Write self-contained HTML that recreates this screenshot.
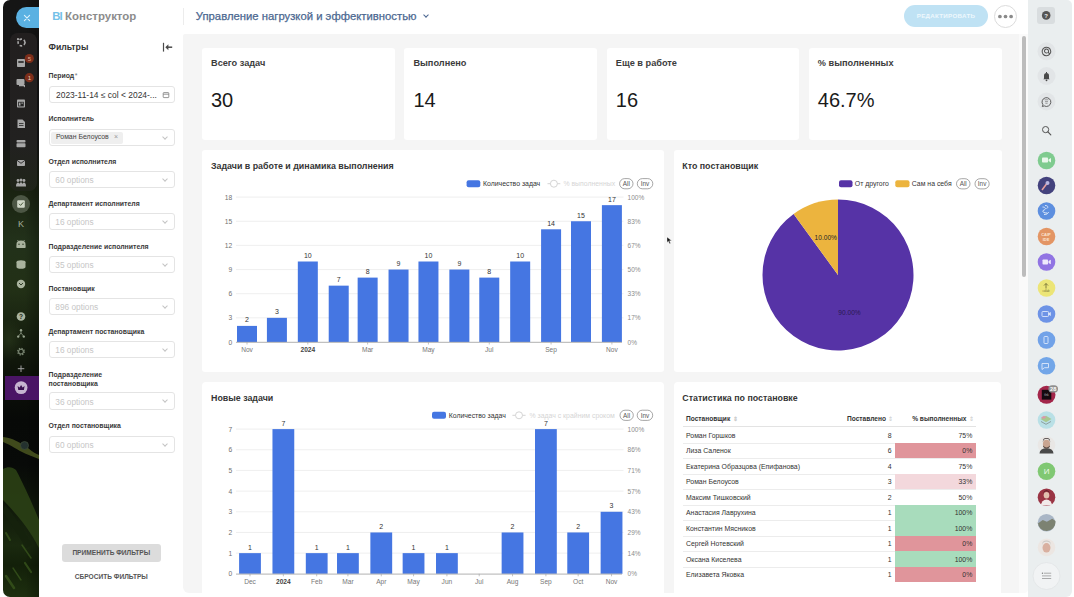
<!DOCTYPE html>
<html lang="ru">
<head>
<meta charset="utf-8">
<title>BI Конструктор</title>
<style>
*{box-sizing:border-box;margin:0;padding:0}
html,body{width:1074px;height:597px;overflow:hidden;background:#fff;font-family:"Liberation Sans","Noto Sans CJK SC",sans-serif;color:#333}
.abs{position:absolute}
svg text{font-family:"Liberation Sans","Noto Sans CJK SC",sans-serif}
#lside{left:3px;top:0;width:36px;height:597px;border-radius:7px 0 0 7px;overflow:hidden;
 background:
  radial-gradient(ellipse 22px 30px at 6px 340px, rgba(60,80,40,.35), rgba(0,0,0,0) 70%),
  linear-gradient(90deg, rgba(0,0,0,0) 60%, rgba(0,0,0,.25) 100%),
  linear-gradient(180deg,#151515 0px,#161616 140px,#1a2311 190px,#22311a 240px,#223016 290px,#151e0e 340px,#0d1209 375px,#070907 420px,#080a08 465px,#0c1209 490px,#121c0b 515px,#1a290f 545px,#132009 565px,#1d2f0f 597px);}
#lgroup{left:9.5px;top:32.7px;width:27px;height:158px;border-radius:8px 8px 8px 8px;background:linear-gradient(180deg,#221f1f 0%,#222120 70%,#1f2419 100%)}
#closepill{left:15.8px;top:7.4px;width:23.2px;height:20.8px;border-radius:10.4px 0 0 10.4px;background:#5ab1e2}
.sic{position:absolute;left:14px;width:14px;height:14px}
#purp{left:4.5px;top:376px;width:34px;height:24px;background:#4a1565}
#filter{left:39px;top:0;width:144px;height:597px;background:#fff}
#hdr{left:39px;top:0;width:989px;height:34px;background:#fff}
#main{left:183px;top:33.7px;width:845px;height:559.3px;background:#f5f5f5;border-radius:2px 0 6px 6px}
#track{left:1019px;top:34px;width:9px;height:559px;background:#fafafa;border-radius:0 0 4px 0}
#thumb{left:1022px;top:36px;width:4.3px;height:241px;border-radius:2px;background:#bcbcbc}
#rside{left:1027.5px;top:0;width:44.7px;height:597px;background:#eaeeef;border-radius:0 5px 6px 0}
.card{position:absolute;background:#fff;border-radius:3px}
.kl{position:absolute;font-size:9.2px;font-weight:bold;color:#3c3c3c}
.kv{position:absolute;font-size:20px;color:#1a1a1a;line-height:1}
.ct{position:absolute;font-size:8.85px;font-weight:bold;color:#353535}
.flab{left:48.5px;font-size:6.9px;font-weight:bold;color:#3a3a3a;line-height:9.3px}
.finp{left:48.5px;width:126px;height:17.2px;border:0.8px solid #e4e4e4;border-radius:3px;background:#fff}
.ph{position:absolute;left:5.8px;top:3.2px;font-size:8.3px;color:#c6c6c6}
.chev{position:absolute;left:113px;top:5px;width:4px;height:4px;border-right:0.7px solid #c4c4c4;border-bottom:0.7px solid #c4c4c4;transform:rotate(45deg)}
.trow{font-size:6.9px;color:#333}
.sort{font-size:6px;color:#c8c8c8}
.ric{position:absolute;left:1037.5px;width:17px;height:17px;border-radius:50%}
</style>
</head>
<body>
<!-- left dark sidebar -->
<div id="lside" class="abs"></div>
<div id="lgroup" class="abs"></div>
<div id="closepill" class="abs"></div>
<svg class="abs" style="left:22px;top:12.5px" width="10" height="10" viewBox="0 0 10 10"><path d="M2.4 2.4L7.6 7.6M7.6 2.4L2.4 7.6" stroke="#dff2fc" stroke-width="1.1" stroke-linecap="round"/></svg>
<div id="purp" class="abs"></div>
<svg class="abs" style="left:0;top:0" width="39" height="597" viewBox="0 0 39 597">
 <g fill="#a8a8a8" stroke="none">
  <!-- 42: dots circle -->
  <circle cx="21.5" cy="42.5" r="3.4" fill="none" stroke="#a8a8a8" stroke-width="1.6" stroke-dasharray="2.6 1.9"/><circle cx="18" cy="39.2" r="1.1"/><path d="M24.5 41.5l1.6 1.2-1.6 1.2z"/>
  <!-- 62: box -->
  <rect x="17" y="59" width="8" height="8" rx="0.8"/><rect x="18.3" y="61.2" width="5.4" height="1.6" fill="#252525"/>
  <!-- 83: chat -->
  <rect x="16.5" y="79" width="8" height="6" rx="1"/><path d="M19 85h6v2.5l-1.5-1.2H19z"/>
  <!-- 103: calendar -->
  <rect x="17" y="99.5" width="8" height="8" rx="0.8"/><rect x="18.2" y="101.8" width="5.6" height="4.6" fill="#252525"/><rect x="19" y="102.6" width="1.5" height="3" /><rect x="21.3" y="102.6" width="1.8" height="1"/>
  <!-- 123: doc -->
  <path d="M17.5 119.5h5l2.5 2.5v6h-7.5z"/><rect x="19" y="123" width="4.5" height="0.8" fill="#252525"/><rect x="19" y="125" width="4.5" height="0.8" fill="#252525"/>
  <!-- 143: tray -->
  <rect x="16.5" y="140" width="9" height="2.5" rx="1"/><rect x="16.5" y="143.3" width="9" height="4" rx="0.8"/>
  <!-- 163: mail -->
  <rect x="17" y="160" width="8" height="6" rx="0.8"/><path d="M17 160.3l4 3 4-3" stroke="#252525" stroke-width="0.9" fill="none"/>
  <!-- 183: people -->
  <circle cx="18" cy="180.5" r="1.4"/><circle cx="21" cy="180" r="1.5"/><circle cx="24" cy="180.5" r="1.4"/><path d="M16 186.5c0-3 1-4 2-4s2 1 2 4zM19.3 186.5c0-3.2 0.8-4.2 1.7-4.2s1.7 1 1.7 4.2zM22 186.5c0-3 1-4 2-4s2 1 2 4z"/>
 </g>
 <!-- 204 selected -->
 <circle cx="21" cy="204" r="9" fill="#4c5644"/>
 <rect x="17.2" y="200.3" width="7.6" height="7.4" rx="1" fill="#cfd6c7"/>
 <path d="M19 203.8l1.6 1.6 2.6-3" stroke="#4a5a3c" stroke-width="1" fill="none"/>
 <text x="21" y="227.3" text-anchor="middle" font-size="9" font-family="Liberation Sans, sans-serif" fill="#a3ad99">K</text>
 <g fill="#a9b39e">
  <!-- 244 robot -->
  <path d="M16.5 246.5v-2.5a4.5 3.5 0 0 1 9 0v2.5z"/><rect x="16.5" y="245.5" width="9" height="2.5" rx="0.6"/><circle cx="19" cy="244.3" r="0.7" fill="#22301a"/><circle cx="23" cy="244.3" r="0.7" fill="#22301a"/>
  <path d="M17.5 240l1 1.5M24.5 240l-1 1.5" stroke="#a9b39e" stroke-width="0.8"/>
  <!-- 264 cylinder -->
  <path d="M16.5 262v5a4.5 1.8 0 0 0 9 0v-5z"/><ellipse cx="21" cy="262" rx="4.5" ry="1.8"/>
  <!-- 284 down chevron circle -->
  <circle cx="21" cy="284" r="4.2"/><path d="M19 283l2 2 2-2" stroke="#22301a" stroke-width="0.9" fill="none"/>
  <!-- 316 ? -->
  <circle cx="21" cy="316.5" r="4.3"/>
 </g>
 <text x="21" y="318.8" text-anchor="middle" font-size="6.5" font-weight="bold" font-family="Liberation Sans, sans-serif" fill="#1c2614">?</text>
 <g stroke="#8c9884" stroke-width="0.8" fill="none"><path d="M21 330.5v2.5M21 333l-2.6 3.2M21 333l2.6 3.2"/></g><g fill="#98a48f"><circle cx="21" cy="330.3" r="1.2"/><circle cx="18.2" cy="336.6" r="1.2"/><circle cx="23.8" cy="336.6" r="1.2"/></g>
 <circle cx="21" cy="351.6" r="3.3" fill="none" stroke="#7c8874" stroke-width="1.3" stroke-dasharray="1.3 1.3"/><circle cx="21" cy="351.6" r="2.4" fill="none" stroke="#7c8874" stroke-width="1.1"/>
 <path d="M21 365.5v6.5M17.8 368.7h6.5" stroke="#a0a0a0" stroke-width="1"/>
 <circle cx="21.1" cy="387.6" r="6.4" fill="#c6b4d0"/>
 <path d="M18.3 390l-0.7-4 2 1.6 1.5-2.6 1.5 2.6 2-1.6-0.7 4z" fill="#3a1050"/>
 <!-- badges -->
 <circle cx="29.3" cy="58.5" r="4.6" fill="#7c2e1a"/><text x="29.3" y="60.8" text-anchor="middle" font-size="6" fill="#e0a890" font-family="Liberation Sans, sans-serif">5</text>
 <circle cx="29.3" cy="77.7" r="4.6" fill="#7c2e1a"/>
 <text x="29.3" y="80" text-anchor="middle" font-size="6" fill="#f2c9b8" font-family="Liberation Sans, sans-serif">1</text>
 <!-- leaves -->
 <path d="M3 437 C12 438 20 442 28 448 C33 452 36 454 39 455 L39 459 C34 457 28 455 20 451 C12 446 6 443 3 442z" fill="#4a5620" opacity="0.85"/>
 <circle cx="24.5" cy="445.5" r="4" fill="#24312f" stroke="#3f4d3a" stroke-width="0.7"/>
 <path d="M3 469 C8 466 13 467 16 470 C24 485 33 505 39 520 L39 548 C30 530 15 512 3 500z" fill="#2b4015" opacity="0.9"/>
 <path d="M5 505 C14 515 24 530 32 545 L26 548 C18 535 10 522 3 512z" fill="#15220c" opacity="0.8"/>
 <g stroke="#3c5a1e" stroke-linecap="round" fill="none" opacity="0.7">
  <path d="M6 533 L10 540" stroke-width="2"/>
  <path d="M22 545 L31 558" stroke-width="1.5"/>
  <path d="M25 563 L31 572" stroke-width="2.2"/>
  <path d="M6 576 L14 588" stroke-width="2.6"/>
  <path d="M13 568 L21 580" stroke-width="1.4"/>
 </g>
</svg>

<!-- filter panel + header -->
<div id="filter" class="abs"></div>
<div id="hdr" class="abs"></div>
<div class="abs" style="left:52.3px;top:10.2px;font-size:11.3px;font-weight:bold;letter-spacing:-0.9px;line-height:13px;color:#73c1e8">BI</div><div class="abs" style="left:65.1px;top:10.1px;font-size:11.45px;font-weight:bold;line-height:13px;color:#8c8c8c">Конструктор</div>
<div class="abs" style="left:183px;top:8px;width:1px;height:17px;background:#ececec"></div>
<div class="abs" style="left:195.8px;top:10.4px;font-size:11.3px;color:#4b6790;line-height:13px;-webkit-text-stroke:0.25px #4b6790">Управление нагрузкой и эффективностью</div>
<div class="abs" style="left:423.5px;top:13.2px;width:4px;height:4px;border-right:1px solid #4b6790;border-bottom:1px solid #4b6790;transform:rotate(45deg)"></div>
<!-- edit button -->
<div class="abs" style="left:904px;top:5px;width:84px;height:22px;border-radius:11px;background:#bfe2f4"></div>
<div class="abs" style="left:904px;top:11.8px;width:84px;text-align:center;font-size:6.2px;font-weight:bold;color:#eef8fd;letter-spacing:0.3px">РЕДАКТИРОВАТЬ</div>
<div class="abs" style="left:994px;top:4.6px;width:23px;height:23px;border-radius:50%;border:0.8px solid #dcdcdc;background:#fff"></div>
<svg class="abs" style="left:994px;top:4.6px" width="23" height="23" viewBox="0 0 23 23"><g fill="#8a8a8a"><circle cx="5.9" cy="11.5" r="1.85"/><circle cx="11.5" cy="11.5" r="1.85"/><circle cx="17.1" cy="11.5" r="1.85"/></g></svg>

<div class="abs" style="left:48.5px;top:42px;font-size:8.7px;font-weight:bold;color:#333;line-height:10px">Фильтры</div>
<svg class="abs" style="left:161px;top:41px" width="13" height="12" viewBox="0 0 13 12"><path d="M2.5 1.8v8.8" stroke="#4a4a4a" stroke-width="1.2"/><path d="M11.2 6.2H6" stroke="#4a4a4a" stroke-width="1.5"/><path d="M4.3 6.2L7.4 3.2V9.2z" fill="#4a4a4a"/></svg>
<div class="abs flab" style="top:71.4px">Период<span style="color:#777;font-weight:normal;font-size:7px;margin-left:0.5px">*</span></div>
<div class="abs finp" style="top:85.7px"><span class="abs" style="left:6.5px;top:3.3px;font-size:8.45px;color:#333;white-space:nowrap">2023-11-14 ≤ col &lt; 2024-...</span>
<svg class="abs" style="left:112px;top:4.2px" width="8" height="8" viewBox="0 0 8 8"><rect x="1.2" y="1.6" width="5.6" height="5" rx="0.6" fill="none" stroke="#777" stroke-width="0.75"/><path d="M1.2 3.2h5.6" stroke="#777" stroke-width="0.75"/></svg></div>
<div class="abs flab" style="top:114px">Исполнитель</div>
<div class="abs finp" style="top:128.6px"><span class="abs" style="left:1.5px;top:2px;width:71.5px;height:12px;background:#efefef;border-radius:2px"></span><span class="abs" style="left:6.5px;top:3.7px;font-size:6.9px;color:#444;white-space:nowrap">Роман Белоусов</span><span class="abs" style="left:64.5px;top:3.4px;font-size:7px;color:#999">×</span><span class="chev"></span></div>
<div class="abs flab" style="top:156.6px">Отдел исполнителя</div>
<div class="abs finp" style="top:171.0px"><span class="ph">60 options</span><span class="chev"></span></div>
<div class="abs flab" style="top:199.1px">Департамент исполнителя</div>
<div class="abs finp" style="top:213.3px"><span class="ph">16 options</span><span class="chev"></span></div>
<div class="abs flab" style="top:241.5px">Подразделение исполнителя</div>
<div class="abs finp" style="top:256.0px"><span class="ph">35 options</span><span class="chev"></span></div>
<div class="abs flab" style="top:284.1px">Постановщик</div>
<div class="abs finp" style="top:298.0px"><span class="ph">896 options</span><span class="chev"></span></div>
<div class="abs flab" style="top:326.8px">Департамент постановщика</div>
<div class="abs finp" style="top:341.0px"><span class="ph">16 options</span><span class="chev"></span></div>
<div class="abs flab" style="top:369.5px">Подразделение<br>постановщика</div>
<div class="abs finp" style="top:392.4px"><span class="ph">36 options</span><span class="chev"></span></div>
<div class="abs flab" style="top:421.0px">Отдел постановщика</div>
<div class="abs finp" style="top:435.6px"><span class="ph">60 options</span><span class="chev"></span></div>
<div class="abs" style="left:62px;top:544px;width:98.6px;height:17.8px;border-radius:3px;background:#dcdcdc"></div>
<div class="abs" style="left:62px;top:549.3px;width:98.6px;text-align:center;font-size:6.6px;font-weight:bold;color:#555">ПРИМЕНИТЬ ФИЛЬТРЫ</div>
<div class="abs" style="left:62px;top:573.3px;width:98.6px;text-align:center;font-size:6.6px;font-weight:bold;color:#555">СБРОСИТЬ ФИЛЬТРЫ</div>

<!-- main -->
<div id="main" class="abs"></div>
<div id="track" class="abs"></div>
<div id="thumb" class="abs"></div>

<div class="card" style="left:202px;top:47.5px;width:192.5px;height:92.8px"></div>
<div class="card" style="left:404.4px;top:47.5px;width:192.6px;height:92.8px"></div>
<div class="card" style="left:606.6px;top:47.5px;width:192.6px;height:92.8px"></div>
<div class="card" style="left:808.9px;top:47.5px;width:192.7px;height:92.8px"></div>
<div class="kl" style="left:211px;top:58.2px">Всего задач</div>
<div class="kl" style="left:413.4px;top:58.2px">Выполнено</div>
<div class="kl" style="left:615.8px;top:58.2px">Еще в работе</div>
<div class="kl" style="left:817.8px;top:58.2px">% выполненных</div>
<div class="kv" style="left:211px;top:90px">30</div>
<div class="kv" style="left:413.4px;top:90px">14</div>
<div class="kv" style="left:615.8px;top:90px">16</div>
<div class="kv" style="left:817.8px;top:90px">46.7%</div>

<div class="card" style="left:202px;top:150.2px;width:462px;height:222px"></div>
<div class="card" style="left:674.2px;top:150.2px;width:327.4px;height:222px"></div>
<div class="card" style="left:202px;top:382px;width:462px;height:211px;border-radius:4px 4px 0 0"></div>
<div class="card" style="left:674px;top:382px;width:327px;height:211px;border-radius:4px 4px 0 0"></div>
<div class="ct" style="left:211px;top:160.8px">Задачи в работе и динамика выполнения</div>
<div class="ct" style="left:682.3px;top:160.8px">Кто постановщик</div>
<div class="ct" style="left:211px;top:392.8px">Новые задачи</div>
<div class="ct" style="left:682.3px;top:392.8px">Статистика по постановке</div>
<svg class="abs" style="left:202px;top:149px" width="462" height="223" viewBox="202 149 462 223">
<text x="232.2" y="344.50" text-anchor="end" font-size="6.7" fill="#707070">0</text>
<line x1="236" x2="623.5" y1="317.85" y2="317.85" stroke="#ebebeb" stroke-width="0.8"/>
<text x="232.2" y="320.35" text-anchor="end" font-size="6.7" fill="#707070">3</text>
<line x1="236" x2="623.5" y1="293.70" y2="293.70" stroke="#ebebeb" stroke-width="0.8"/>
<text x="232.2" y="296.20" text-anchor="end" font-size="6.7" fill="#707070">6</text>
<line x1="236" x2="623.5" y1="269.55" y2="269.55" stroke="#ebebeb" stroke-width="0.8"/>
<text x="232.2" y="272.05" text-anchor="end" font-size="6.7" fill="#707070">9</text>
<line x1="236" x2="623.5" y1="245.40" y2="245.40" stroke="#ebebeb" stroke-width="0.8"/>
<text x="232.2" y="247.90" text-anchor="end" font-size="6.7" fill="#707070">12</text>
<line x1="236" x2="623.5" y1="221.25" y2="221.25" stroke="#ebebeb" stroke-width="0.8"/>
<text x="232.2" y="223.75" text-anchor="end" font-size="6.7" fill="#707070">15</text>
<line x1="236" x2="623.5" y1="197.10" y2="197.10" stroke="#ebebeb" stroke-width="0.8"/>
<text x="232.2" y="199.60" text-anchor="end" font-size="6.7" fill="#707070">18</text>
<text x="627.6" y="344.50" font-size="6.5" fill="#8c8c8c">0%</text>
<text x="627.6" y="320.35" font-size="6.5" fill="#8c8c8c">17%</text>
<text x="627.6" y="296.20" font-size="6.5" fill="#8c8c8c">33%</text>
<text x="627.6" y="272.05" font-size="6.5" fill="#8c8c8c">50%</text>
<text x="627.6" y="247.90" font-size="6.5" fill="#8c8c8c">67%</text>
<text x="627.6" y="223.75" font-size="6.5" fill="#8c8c8c">83%</text>
<text x="627.6" y="199.60" font-size="6.5" fill="#8c8c8c">100%</text>
<rect x="237.00" y="325.90" width="20" height="16.10" fill="#4576e2"/>
<text x="247.00" y="322.30" text-anchor="middle" font-size="7" fill="#333">2</text>
<rect x="266.91" y="317.85" width="20" height="24.15" fill="#4576e2"/>
<text x="276.91" y="314.25" text-anchor="middle" font-size="7" fill="#333">3</text>
<rect x="297.82" y="261.50" width="20" height="80.50" fill="#4576e2"/>
<text x="307.82" y="257.90" text-anchor="middle" font-size="7" fill="#333">10</text>
<rect x="328.72" y="285.65" width="20" height="56.35" fill="#4576e2"/>
<text x="338.72" y="282.05" text-anchor="middle" font-size="7" fill="#333">7</text>
<rect x="357.64" y="277.60" width="20" height="64.40" fill="#4576e2"/>
<text x="367.64" y="274.00" text-anchor="middle" font-size="7" fill="#333">8</text>
<rect x="388.54" y="269.55" width="20" height="72.45" fill="#4576e2"/>
<text x="398.54" y="265.95" text-anchor="middle" font-size="7" fill="#333">9</text>
<rect x="418.45" y="261.50" width="20" height="80.50" fill="#4576e2"/>
<text x="428.45" y="257.90" text-anchor="middle" font-size="7" fill="#333">10</text>
<rect x="449.36" y="269.55" width="20" height="72.45" fill="#4576e2"/>
<text x="459.36" y="265.95" text-anchor="middle" font-size="7" fill="#333">9</text>
<rect x="479.27" y="277.60" width="20" height="64.40" fill="#4576e2"/>
<text x="489.27" y="274.00" text-anchor="middle" font-size="7" fill="#333">8</text>
<rect x="510.18" y="261.50" width="20" height="80.50" fill="#4576e2"/>
<text x="520.18" y="257.90" text-anchor="middle" font-size="7" fill="#333">10</text>
<rect x="541.09" y="229.30" width="20" height="112.70" fill="#4576e2"/>
<text x="551.09" y="225.70" text-anchor="middle" font-size="7" fill="#333">14</text>
<rect x="571.00" y="221.25" width="20" height="120.75" fill="#4576e2"/>
<text x="581.00" y="217.65" text-anchor="middle" font-size="7" fill="#333">15</text>
<rect x="601.90" y="205.15" width="20" height="136.85" fill="#4576e2"/>
<text x="611.90" y="201.55" text-anchor="middle" font-size="7" fill="#333">17</text>
<line x1="236" x2="622" y1="342.30" y2="342.30" stroke="#a8a8a8" stroke-width="0.9"/>
<line x1="247.00" x2="247.00" y1="342.00" y2="344.50" stroke="#a8a8a8" stroke-width="0.7"/>
<text x="247.00" y="352.30" text-anchor="middle" font-size="6.6" fill="#777">Nov</text>
<line x1="307.82" x2="307.82" y1="342.00" y2="344.50" stroke="#a8a8a8" stroke-width="0.7"/>
<text x="307.82" y="352.30" text-anchor="middle" font-size="6.6" font-weight="bold" fill="#444">2024</text>
<line x1="367.64" x2="367.64" y1="342.00" y2="344.50" stroke="#a8a8a8" stroke-width="0.7"/>
<text x="367.64" y="352.30" text-anchor="middle" font-size="6.6" fill="#777">Mar</text>
<line x1="428.45" x2="428.45" y1="342.00" y2="344.50" stroke="#a8a8a8" stroke-width="0.7"/>
<text x="428.45" y="352.30" text-anchor="middle" font-size="6.6" fill="#777">May</text>
<line x1="489.27" x2="489.27" y1="342.00" y2="344.50" stroke="#a8a8a8" stroke-width="0.7"/>
<text x="489.27" y="352.30" text-anchor="middle" font-size="6.6" fill="#777">Jul</text>
<line x1="551.09" x2="551.09" y1="342.00" y2="344.50" stroke="#a8a8a8" stroke-width="0.7"/>
<text x="551.09" y="352.30" text-anchor="middle" font-size="6.6" fill="#777">Sep</text>
<line x1="611.90" x2="611.90" y1="342.00" y2="344.50" stroke="#a8a8a8" stroke-width="0.7"/>
<text x="611.90" y="352.30" text-anchor="middle" font-size="6.6" fill="#777">Nov</text>
<rect x="466.6" y="180.2" width="13.699999999999989" height="7" rx="2" fill="#4576e2"/>
<text x="483" y="186.1" font-size="6.9" fill="#333">Количество задач</text>
<line x1="547.5" x2="560.3" y1="183.7" y2="183.7" stroke="#cfcfcf" stroke-width="0.9"/>
<circle cx="553.9" cy="183.7" r="3.5" fill="#fff" stroke="#cfcfcf" stroke-width="0.9"/>
<text x="563.4" y="186.1" font-size="6.9" fill="#d5d5d5">% выполненных</text>
<rect x="619.6" y="178.6" width="13.399999999999977" height="10.2" rx="5.1" fill="#fff" stroke="#777" stroke-width="0.65"/>
<text x="626.3" y="186.0" text-anchor="middle" font-size="6.4" fill="#555">All</text>
<rect x="637.3" y="178.6" width="15.5" height="10.2" rx="5.1" fill="#fff" stroke="#777" stroke-width="0.65"/>
<text x="645.05" y="186.0" text-anchor="middle" font-size="6.4" fill="#555">Inv</text>
</svg>
<svg class="abs" style="left:202px;top:382px" width="462" height="212" viewBox="202 382 462 212">
<text x="232.2" y="576.30" text-anchor="end" font-size="6.7" fill="#707070">0</text>
<line x1="236" x2="623.5" y1="553.13" y2="553.13" stroke="#ebebeb" stroke-width="0.8"/>
<text x="232.2" y="555.63" text-anchor="end" font-size="6.7" fill="#707070">1</text>
<line x1="236" x2="623.5" y1="532.46" y2="532.46" stroke="#ebebeb" stroke-width="0.8"/>
<text x="232.2" y="534.96" text-anchor="end" font-size="6.7" fill="#707070">2</text>
<line x1="236" x2="623.5" y1="511.79" y2="511.79" stroke="#ebebeb" stroke-width="0.8"/>
<text x="232.2" y="514.29" text-anchor="end" font-size="6.7" fill="#707070">3</text>
<line x1="236" x2="623.5" y1="491.11" y2="491.11" stroke="#ebebeb" stroke-width="0.8"/>
<text x="232.2" y="493.61" text-anchor="end" font-size="6.7" fill="#707070">4</text>
<line x1="236" x2="623.5" y1="470.44" y2="470.44" stroke="#ebebeb" stroke-width="0.8"/>
<text x="232.2" y="472.94" text-anchor="end" font-size="6.7" fill="#707070">5</text>
<line x1="236" x2="623.5" y1="449.77" y2="449.77" stroke="#ebebeb" stroke-width="0.8"/>
<text x="232.2" y="452.27" text-anchor="end" font-size="6.7" fill="#707070">6</text>
<line x1="236" x2="623.5" y1="429.10" y2="429.10" stroke="#ebebeb" stroke-width="0.8"/>
<text x="232.2" y="431.60" text-anchor="end" font-size="6.7" fill="#707070">7</text>
<text x="627.6" y="576.30" font-size="6.5" fill="#8c8c8c">0%</text>
<text x="627.6" y="555.63" font-size="6.5" fill="#8c8c8c">14%</text>
<text x="627.6" y="534.96" font-size="6.5" fill="#8c8c8c">29%</text>
<text x="627.6" y="514.29" font-size="6.5" fill="#8c8c8c">43%</text>
<text x="627.6" y="493.61" font-size="6.5" fill="#8c8c8c">57%</text>
<text x="627.6" y="472.94" font-size="6.5" fill="#8c8c8c">71%</text>
<text x="627.6" y="452.27" font-size="6.5" fill="#8c8c8c">86%</text>
<text x="627.6" y="431.60" font-size="6.5" fill="#8c8c8c">100%</text>
<rect x="239.10" y="553.13" width="21.8" height="20.67" fill="#4576e2"/>
<text x="250.00" y="549.53" text-anchor="middle" font-size="7" fill="#333">1</text>
<rect x="272.46" y="429.10" width="21.8" height="144.70" fill="#4576e2"/>
<text x="283.36" y="425.50" text-anchor="middle" font-size="7" fill="#333">7</text>
<rect x="305.81" y="553.13" width="21.8" height="20.67" fill="#4576e2"/>
<text x="316.71" y="549.53" text-anchor="middle" font-size="7" fill="#333">1</text>
<rect x="337.02" y="553.13" width="21.8" height="20.67" fill="#4576e2"/>
<text x="347.92" y="549.53" text-anchor="middle" font-size="7" fill="#333">1</text>
<rect x="370.37" y="532.46" width="21.8" height="41.34" fill="#4576e2"/>
<text x="381.27" y="528.86" text-anchor="middle" font-size="7" fill="#333">2</text>
<rect x="402.65" y="553.13" width="21.8" height="20.67" fill="#4576e2"/>
<text x="413.55" y="549.53" text-anchor="middle" font-size="7" fill="#333">1</text>
<rect x="436.01" y="553.13" width="21.8" height="20.67" fill="#4576e2"/>
<text x="446.91" y="549.53" text-anchor="middle" font-size="7" fill="#333">1</text>
<rect x="501.64" y="532.46" width="21.8" height="41.34" fill="#4576e2"/>
<text x="512.54" y="528.86" text-anchor="middle" font-size="7" fill="#333">2</text>
<rect x="535.00" y="429.10" width="21.8" height="144.70" fill="#4576e2"/>
<text x="545.90" y="425.50" text-anchor="middle" font-size="7" fill="#333">7</text>
<rect x="567.28" y="532.46" width="21.8" height="41.34" fill="#4576e2"/>
<text x="578.18" y="528.86" text-anchor="middle" font-size="7" fill="#333">2</text>
<rect x="600.64" y="511.79" width="21.8" height="62.01" fill="#4576e2"/>
<text x="611.54" y="508.19" text-anchor="middle" font-size="7" fill="#333">3</text>
<line x1="236" x2="622" y1="574.10" y2="574.10" stroke="#a8a8a8" stroke-width="0.9"/>
<line x1="250.00" x2="250.00" y1="573.80" y2="576.30" stroke="#a8a8a8" stroke-width="0.7"/>
<text x="250.00" y="584.10" text-anchor="middle" font-size="6.6" fill="#777">Dec</text>
<line x1="283.36" x2="283.36" y1="573.80" y2="576.30" stroke="#a8a8a8" stroke-width="0.7"/>
<text x="283.36" y="584.10" text-anchor="middle" font-size="6.6" font-weight="bold" fill="#444">2024</text>
<line x1="316.71" x2="316.71" y1="573.80" y2="576.30" stroke="#a8a8a8" stroke-width="0.7"/>
<text x="316.71" y="584.10" text-anchor="middle" font-size="6.6" fill="#777">Feb</text>
<line x1="347.92" x2="347.92" y1="573.80" y2="576.30" stroke="#a8a8a8" stroke-width="0.7"/>
<text x="347.92" y="584.10" text-anchor="middle" font-size="6.6" fill="#777">Mar</text>
<line x1="381.27" x2="381.27" y1="573.80" y2="576.30" stroke="#a8a8a8" stroke-width="0.7"/>
<text x="381.27" y="584.10" text-anchor="middle" font-size="6.6" fill="#777">Apr</text>
<line x1="413.55" x2="413.55" y1="573.80" y2="576.30" stroke="#a8a8a8" stroke-width="0.7"/>
<text x="413.55" y="584.10" text-anchor="middle" font-size="6.6" fill="#777">May</text>
<line x1="446.91" x2="446.91" y1="573.80" y2="576.30" stroke="#a8a8a8" stroke-width="0.7"/>
<text x="446.91" y="584.10" text-anchor="middle" font-size="6.6" fill="#777">Jun</text>
<line x1="479.19" x2="479.19" y1="573.80" y2="576.30" stroke="#a8a8a8" stroke-width="0.7"/>
<text x="479.19" y="584.10" text-anchor="middle" font-size="6.6" fill="#777">Jul</text>
<line x1="512.54" x2="512.54" y1="573.80" y2="576.30" stroke="#a8a8a8" stroke-width="0.7"/>
<text x="512.54" y="584.10" text-anchor="middle" font-size="6.6" fill="#777">Aug</text>
<line x1="545.90" x2="545.90" y1="573.80" y2="576.30" stroke="#a8a8a8" stroke-width="0.7"/>
<text x="545.90" y="584.10" text-anchor="middle" font-size="6.6" fill="#777">Sep</text>
<line x1="578.18" x2="578.18" y1="573.80" y2="576.30" stroke="#a8a8a8" stroke-width="0.7"/>
<text x="578.18" y="584.10" text-anchor="middle" font-size="6.6" fill="#777">Oct</text>
<line x1="611.54" x2="611.54" y1="573.80" y2="576.30" stroke="#a8a8a8" stroke-width="0.7"/>
<text x="611.54" y="584.10" text-anchor="middle" font-size="6.6" fill="#777">Nov</text>
<rect x="432" y="411.8" width="14" height="7" rx="2" fill="#4576e2"/>
<text x="448.7" y="417.7" font-size="6.9" fill="#333">Количество задач</text>
<line x1="512.4" x2="525.6" y1="415.3" y2="415.3" stroke="#cfcfcf" stroke-width="0.9"/>
<circle cx="519.0" cy="415.3" r="3.5" fill="#fff" stroke="#cfcfcf" stroke-width="0.9"/>
<text x="529.5" y="417.7" font-size="6.9" fill="#d5d5d5">% задач с крайним сроком</text>
<rect x="620" y="410.2" width="13.299999999999955" height="10.2" rx="5.1" fill="#fff" stroke="#777" stroke-width="0.65"/>
<text x="626.65" y="417.6" text-anchor="middle" font-size="6.4" fill="#555">All</text>
<rect x="637.2" y="410.2" width="15.5" height="10.2" rx="5.1" fill="#fff" stroke="#777" stroke-width="0.65"/>
<text x="644.95" y="417.6" text-anchor="middle" font-size="6.4" fill="#555">Inv</text>
</svg>
<svg class="abs" style="left:674px;top:149px" width="327" height="223" viewBox="674 149 327 223">
<path d="M838,275 L838,199.5 A75.5,75.5 0 1,1 793.62,213.92 Z" fill="#5633a6"/>
<path d="M838,275 L793.62,213.92 A75.5,75.5 0 0,1 838,199.5 Z" fill="#ecb43e"/>
<text x="825.8" y="239.8" text-anchor="middle" font-size="6.6" fill="#262626">10.00%</text>
<text x="849.5" y="315.3" text-anchor="middle" font-size="6.6" fill="#2a1a50">90.00%</text>
<rect x="839" y="180.3" width="13.5" height="7" rx="2" fill="#5633a6"/>
<text x="854.8" y="186.20000000000002" font-size="6.9" fill="#333">От другого</text>
<rect x="895.3" y="180.3" width="14.2" height="7" rx="2" fill="#ecb43e"/>
<text x="911.8" y="186.20000000000002" font-size="6.9" fill="#333">Сам на себя</text>
<rect x="956.5" y="178.70000000000002" width="13.5" height="10.2" rx="5.1" fill="#fff" stroke="#777" stroke-width="0.65"/>
<text x="963.25" y="186.10000000000002" text-anchor="middle" font-size="6.4" fill="#555">All</text>
<rect x="975" y="178.70000000000002" width="14.200000000000045" height="10.2" rx="5.1" fill="#fff" stroke="#777" stroke-width="0.65"/>
<text x="982.1" y="186.10000000000002" text-anchor="middle" font-size="6.4" fill="#555">Inv</text>
</svg>
<div class="abs" style="left:686px;top:415px;font-size:6.6px;font-weight:bold;color:#333">Постановщик<span class="sort" style="margin-left:3px">&#8661;</span></div>
<div class="abs" style="left:800px;width:86px;text-align:right;top:415px;font-size:6.6px;font-weight:bold;color:#333">Поставлено</div><div class="abs sort" style="left:888px;top:415px">&#8661;</div>
<div class="abs" style="left:880px;width:86.5px;text-align:right;top:415px;font-size:6.6px;font-weight:bold;color:#333">% выполненных</div><div class="abs sort" style="left:969px;top:415px">&#8661;</div>
<div class="abs" style="left:683px;width:293px;top:426.0px;height:1.3px;background:#e3e3e3"></div>
<div class="abs trow" style="left:686px;top:431.6px">Роман Горшков</div>
<div class="abs trow" style="left:850px;width:41.5px;text-align:right;top:431.6px">8</div>
<div class="abs trow" style="left:930px;width:42.3px;text-align:right;top:431.6px">75%</div>
<div class="abs" style="left:683px;width:293px;top:442.5px;height:0.6px;background:#ececec"></div>
<div class="abs" style="left:895px;width:81px;top:442.7px;height:15.6px;background:#e0959b"></div>
<div class="abs trow" style="left:686px;top:447.1px">Лиза Саленок</div>
<div class="abs trow" style="left:850px;width:41.5px;text-align:right;top:447.1px">6</div>
<div class="abs trow" style="left:930px;width:42.3px;text-align:right;top:447.1px">0%</div>
<div class="abs" style="left:683px;width:293px;top:458.0px;height:0.6px;background:#ececec"></div>
<div class="abs trow" style="left:686px;top:462.6px">Екатерина Образцова (Епифанова)</div>
<div class="abs trow" style="left:850px;width:41.5px;text-align:right;top:462.6px">4</div>
<div class="abs trow" style="left:930px;width:42.3px;text-align:right;top:462.6px">75%</div>
<div class="abs" style="left:683px;width:293px;top:473.5px;height:0.6px;background:#ececec"></div>
<div class="abs" style="left:895px;width:81px;top:473.7px;height:15.6px;background:#f3d8dc"></div>
<div class="abs trow" style="left:686px;top:478.1px">Роман Белоусов</div>
<div class="abs trow" style="left:850px;width:41.5px;text-align:right;top:478.1px">3</div>
<div class="abs trow" style="left:930px;width:42.3px;text-align:right;top:478.1px">33%</div>
<div class="abs" style="left:683px;width:293px;top:489.0px;height:0.6px;background:#ececec"></div>
<div class="abs trow" style="left:686px;top:493.6px">Максим Тишковский</div>
<div class="abs trow" style="left:850px;width:41.5px;text-align:right;top:493.6px">2</div>
<div class="abs trow" style="left:930px;width:42.3px;text-align:right;top:493.6px">50%</div>
<div class="abs" style="left:683px;width:293px;top:504.5px;height:0.6px;background:#ececec"></div>
<div class="abs" style="left:895px;width:81px;top:504.7px;height:15.6px;background:#a8dcbc"></div>
<div class="abs trow" style="left:686px;top:509.1px">Анастасия Лаврухина</div>
<div class="abs trow" style="left:850px;width:41.5px;text-align:right;top:509.1px">1</div>
<div class="abs trow" style="left:930px;width:42.3px;text-align:right;top:509.1px">100%</div>
<div class="abs" style="left:683px;width:293px;top:520.0px;height:0.6px;background:#ececec"></div>
<div class="abs" style="left:895px;width:81px;top:520.2px;height:15.6px;background:#a8dcbc"></div>
<div class="abs trow" style="left:686px;top:524.6px">Константин Мясников</div>
<div class="abs trow" style="left:850px;width:41.5px;text-align:right;top:524.6px">1</div>
<div class="abs trow" style="left:930px;width:42.3px;text-align:right;top:524.6px">100%</div>
<div class="abs" style="left:683px;width:293px;top:535.5px;height:0.6px;background:#ececec"></div>
<div class="abs" style="left:895px;width:81px;top:535.7px;height:15.6px;background:#e0959b"></div>
<div class="abs trow" style="left:686px;top:540.1px">Сергей Нотевский</div>
<div class="abs trow" style="left:850px;width:41.5px;text-align:right;top:540.1px">1</div>
<div class="abs trow" style="left:930px;width:42.3px;text-align:right;top:540.1px">0%</div>
<div class="abs" style="left:683px;width:293px;top:551.0px;height:0.6px;background:#ececec"></div>
<div class="abs" style="left:895px;width:81px;top:551.2px;height:15.6px;background:#a8dcbc"></div>
<div class="abs trow" style="left:686px;top:555.6px">Оксана Киселева</div>
<div class="abs trow" style="left:850px;width:41.5px;text-align:right;top:555.6px">1</div>
<div class="abs trow" style="left:930px;width:42.3px;text-align:right;top:555.6px">100%</div>
<div class="abs" style="left:683px;width:293px;top:566.5px;height:0.6px;background:#ececec"></div>
<div class="abs" style="left:895px;width:81px;top:566.7px;height:15.6px;background:#e0959b"></div>
<div class="abs trow" style="left:686px;top:571.1px">Елизавета Яковка</div>
<div class="abs trow" style="left:850px;width:41.5px;text-align:right;top:571.1px">1</div>
<div class="abs trow" style="left:930px;width:42.3px;text-align:right;top:571.1px">0%</div>

<!-- mouse cursor -->
<svg class="abs" style="left:666px;top:236px" width="7" height="9" viewBox="0 0 7 9"><path d="M1 1V6.4L2.4 5.2 3.5 7.7 4.6 7.2 3.5 4.8H5.7z" fill="#111" stroke="#fff" stroke-width="0.4"/></svg>

<!-- right panel -->
<div id="rside" class="abs"></div>
<div class="abs" style="left:1037.4px;top:6.6px;width:17.3px;height:17.1px;border-radius:3px;background:#d9dddf"></div>
<svg class="abs" style="left:1028px;top:0" width="43" height="597" viewBox="1028 0 43 597">
 <circle cx="1046.2" cy="15.4" r="4.3" fill="#555"/>
 <text x="1046.2" y="17.6" text-anchor="middle" font-size="6" font-weight="bold" fill="#eee" font-family="Liberation Sans, sans-serif">?</text>
 <circle cx="1046.5" cy="51.3" r="9" fill="#e2e5e7"/>
 <path d="M1049.8 54.2a4.3 4.3 0 1 1 0.9-3.2v1.3q0 1.3-1.1 1.3t-1.1-1.3v-1.2a2 2 0 1 0-0.6 1.4" fill="none" stroke="#555" stroke-width="1.05"/>
 <circle cx="1046.5" cy="76" r="9" fill="#e2e5e7"/>
 <path d="M1044 78.6v-2.8a2.5 2.8 0 0 1 5 0v2.8l0.7 0.7h-6.4z" fill="#4a4a4a"/><circle cx="1046.5" cy="80.3" r="0.9" fill="#4a4a4a"/><rect x="1046" y="72" width="1" height="1.2" fill="#4a4a4a"/>
 <circle cx="1046.5" cy="101.5" r="9" fill="#e2e5e7"/>
 <path d="M1043 104.8a4.4 4.4 0 1 1 1.3 1.1l-2 0.6z" fill="none" stroke="#555" stroke-width="0.95"/><path d="M1044.6 99.8h3.8M1045 101.6h3M1045.4 103.3h2.2" stroke="#666" stroke-width="0.6"/>
 <circle cx="1045.6" cy="129.6" r="3.1" fill="none" stroke="#555" stroke-width="1"/><path d="M1047.9 131.9l2.9 2.9" stroke="#555" stroke-width="1.2" stroke-linecap="round"/>
 <circle cx="1046.5" cy="160.5" r="8.8" fill="#7fcb8f"/><rect x="1042" y="157.5" width="6" height="5" rx="0.8" fill="#eaf7ec"/><path d="M1048.5 159.5l2.5-1.5v4.5l-2.5-1.5z" fill="#eaf7ec"/>
 <circle cx="1046.5" cy="185.5" r="8.8" fill="#43427d"/><path d="M1042 190l6-8" stroke="#e8a0a0" stroke-width="1.6"/><circle cx="1047.5" cy="183" r="2" fill="#b9b6e0"/>
 <circle cx="1046.5" cy="211" r="8.8" fill="#5d8fdf"/><path d="M1042.5 207c3 0 4 2 1.5 3s-1 3 3 3M1045 205.5c3 0 4 2 1.5 3M1044 214.5c3 0 4-1 4.5-2.5" stroke="#d9e6fa" stroke-width="1" fill="none"/>
 <circle cx="1046.5" cy="236.5" r="8.8" fill="#e39564"/><text x="1046" y="236" text-anchor="middle" font-size="4" font-weight="bold" fill="#fbe3d4" font-family="Liberation Sans, sans-serif">CAIP</text><text x="1046" y="240.5" text-anchor="middle" font-size="4" font-weight="bold" fill="#fbe3d4" font-family="Liberation Sans, sans-serif">IDE</text>
 <circle cx="1046.5" cy="262" r="8.8" fill="#9174e3"/><rect x="1042.5" y="259.5" width="5.5" height="5" rx="0.8" fill="#efeafc"/><path d="M1048.5 261l2.3-1.3v4.6l-2.3-1.3z" fill="#efeafc"/>
 <circle cx="1046.5" cy="288" r="8.8" fill="#ece577"/><path d="M1046 283.5v5M1044 285.5l2-2 2 2" stroke="#6b6430" stroke-width="0.8" fill="none"/><text x="1046" y="292" text-anchor="middle" font-size="2.6" fill="#6b6430" font-family="Liberation Sans, sans-serif">collab</text>
 <circle cx="1046.5" cy="314" r="8.8" fill="#6d93e6"/><rect x="1042" y="311.5" width="6.5" height="5" rx="0.8" fill="none" stroke="#dbe6fb" stroke-width="0.9"/><path d="M1048.5 313.2l2.3-1.3v4l-2.3-1.3z" fill="#dbe6fb"/>
 <circle cx="1046.5" cy="340" r="8.8" fill="#71a2e8"/><rect x="1044" y="336.5" width="4" height="7" rx="0.8" fill="none" stroke="#dde8fb" stroke-width="0.9"/>
 <circle cx="1046.5" cy="365.8" r="8.8" fill="#72a6e8"/><path d="M1042 363.5h6.5v4.2h-4l-2.5 1.8z" fill="none" stroke="#dde8fb" stroke-width="0.9"/>
 <circle cx="1046.5" cy="394.8" r="9" fill="#a3264a"/><rect x="1041.8" y="389.8" width="9.5" height="9.8" fill="#150a10"/><text x="1046.5" y="395.6" text-anchor="middle" font-size="2.8" fill="#bbb" font-family="Liberation Sans, sans-serif">tlnk</text>
 <rect x="1048.4" y="385.2" width="9.6" height="7.4" rx="3.7" fill="#8f8f8f"/><text x="1053.2" y="391" text-anchor="middle" font-size="5.6" font-weight="bold" fill="#fff" font-family="Liberation Sans, sans-serif">28</text>
  <circle cx="1046.5" cy="420" r="8.8" fill="#b9e0e6"/><path d="M1040.5 419l5.5-3.2 5.5 3.2-5.5 3.2z" fill="#a8c890"/><path d="M1041 417.5l3-1.8 2.5 1.5-3 1.8z" fill="#d89aa8"/><path d="M1041 421.5l5 2.8 5-2.8" stroke="#8ca0a0" stroke-width="1" fill="none"/>
 <circle cx="1046.5" cy="445" r="8.8" fill="#e9e7e5"/><path d="M1039.5 453.5a7 5.5 0 0 1 14 0z" fill="#4a4a4a"/><ellipse cx="1046.5" cy="444" rx="3.6" ry="4.3" fill="#c9a591"/><path d="M1042.9 442.5a3.6 3.8 0 0 1 7.2 0v-1.5a3.6 3 0 0 0-7.2 0z" fill="#3a3230"/><path d="M1043.2 445.5q3.3 4 6.6 0v1.5q-3.3 3-6.6 0z" fill="#5a4a44"/>
 <circle cx="1046.5" cy="471.3" r="8.8" fill="#80c873"/><text x="1046.5" y="474.3" text-anchor="middle" font-size="8" fill="#eef8ea" font-family="Liberation Sans, sans-serif">И</text>
 <circle cx="1046.5" cy="497.3" r="8.8" fill="#9a3444"/><ellipse cx="1046.5" cy="495.3" rx="2.8" ry="3.3" fill="#e2c0b0"/><path d="M1041 505.5a5.5 6 0 0 1 11 0z" fill="#f2eaea"/><path d="M1043.5 494a3 3 0 0 1 6 0v-1a3 2.5 0 0 0-6 0z" fill="#2a1a1a"/>
 <circle cx="1046.5" cy="522.7" r="8.8" fill="#a9b6c6"/><path d="M1037.8 523.5l5-3.5 4 1.8 5.5-3 3.2 2.2v1a8.8 8.8 0 0 1-17.6 0.5z" fill="#7c8272"/>
 <circle cx="1046.5" cy="547.4" r="8.8" fill="#ece6e2"/><ellipse cx="1046.5" cy="547.8" rx="4" ry="4.8" fill="#d9b0a0"/><path d="M1042.3 545.5a4.2 4 0 0 1 8.4 0v-1.5a4.2 3.5 0 0 0-8.4 0z" fill="#c8c4c0"/>
 <circle cx="1046.5" cy="576" r="13.5" fill="#f1f3f4" stroke="#dfe2e4" stroke-width="0.7"/>
 <circle cx="1042.4" cy="573.2" r="0.6" fill="#666"/><path d="M1043.8 573.2h7.4M1042 575.9h9.2M1042 578.5h9.2" stroke="#777" stroke-width="0.6"/>
</svg>
</body>
</html>
